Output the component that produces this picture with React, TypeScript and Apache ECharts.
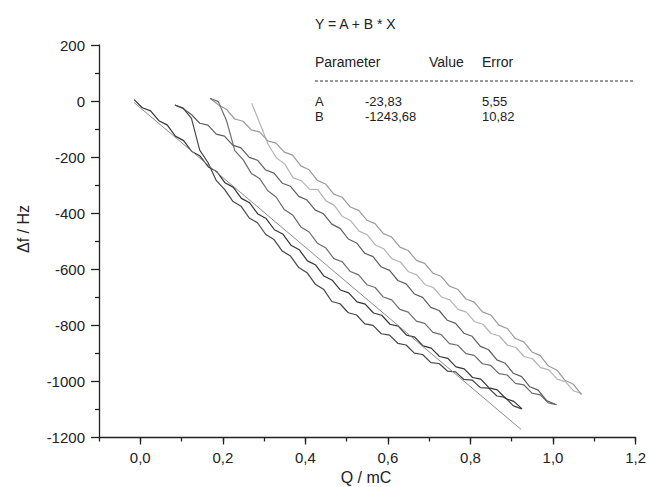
import React, { useEffect, useRef } from "react";
import * as echarts from "echarts";

const xTickValues = [0, 0.2, 0.4, 0.6, 0.8, 1.0, 1.2];
const fitA = -23.83;
const fitB = -1243.68;
const fitRange = [-0.015, 0.923];

// Each curve: first Q value (mC), sampling step (mC), then Δf values (Hz)
const qStep = 0.02;
const curve1Q0 = -0.015;
const curve1 = [5, -24, -35, -70, -85, -125, -141, -180, -196, -235, -251, -291, -307, -347, -363, -403, -419, -459, -474, -514, -530, -570, -585, -624, -639, -674, -684, -716, -724, -756, -764, -796, -803, -835, -842, -873, -881, -911, -918, -948, -955, -986, -992, -1023, -1030, -1061, -1071, -1098];
const curve2Q0 = 0.084;
const curve2 = [-14, -25, -62, -175, -219, -283, -315, -357, -375, -417, -434, -476, -494, -535, -553, -594, -612, -653, -671, -715, -723, -755, -763, -795, -800, -830, -835, -864, -870, -899, -904, -933, -936, -963, -966, -993, -995, -1022, -1024, -1052, -1057, -1087, -1098];
const curve3Q0 = 0.084;
const curve3 = [-14, -27, -48, -79, -86, -118, -125, -157, -167, -201, -211, -246, -257, -293, -304, -340, -353, -389, -402, -439, -454, -492, -506, -543, -555, -592, -604, -640, -652, -688, -700, -736, -747, -782, -793, -828, -839, -875, -887, -923, -935, -971, -983, -1019, -1031, -1068, -1081];
const curve4Q0 = 0.169;
const curve4 = [10, -2, -70, -177, -209, -258, -276, -320, -342, -387, -406, -449, -467, -507, -523, -562, -573, -608, -620, -655, -665, -699, -709, -743, -753, -785, -793, -825, -833, -865, -871, -901, -907, -937, -943, -972, -977, -1007, -1012, -1042, -1048, -1077, -1083];
const curve5Q0 = 0.169;
const curve5 = [10, -13, -30, -64, -72, -103, -110, -142, -150, -182, -193, -231, -245, -283, -296, -332, -343, -378, -390, -425, -437, -473, -485, -521, -533, -568, -579, -614, -625, -660, -671, -706, -717, -752, -763, -799, -811, -847, -859, -895, -908, -945, -959, -996, -1010, -1047];
const curve6Q0 = 0.27;
const curve6 = [-8, -81, -155, -203, -224, -273, -284, -314, -316, -356, -372, -412, -427, -464, -477, -514, -527, -563, -574, -609, -620, -655, -665, -699, -709, -743, -753, -787, -796, -829, -838, -871, -879, -911, -919, -951, -959, -992, -1001, -1034, -1043];

const curveStarts = [curve1Q0, curve2Q0, curve3Q0, curve4Q0, curve5Q0, curve6Q0];
const curves = [curve1, curve2, curve3, curve4, curve5, curve6];
const curveColors = ["#353535", "#474747", "#5e5e5e", "#6c6c6c", "#9a9a9a", "#b4b4b4"];

const FONT = "Liberation Sans, Arial, Helvetica, sans-serif";

export default function App() {
  const ref = useRef<HTMLDivElement>(null);
  useEffect(() => {
    document.body.style.margin = "0";
    const chart = echarts.init(ref.current!, null, { renderer: "svg" });
    const fitData = fitRange.map((x) => [x, fitA + fitB * x]);
    const txt = (text: string, x: number, y: number, extra: any = {}) => ({
      type: "text",
      x,
      y,
      style: { text, fill: "#222", font: `14px ${FONT}`, textVerticalAlign: "middle", ...extra },
    });
    const small = { font: `13px ${FONT}` };
    chart.setOption({
      animation: false,
      backgroundColor: "#fff",
      grid: { left: 99, right: 13, top: 45, bottom: 49.5, containLabel: false },
      xAxis: [
        {
          type: "value",
          min: -0.1,
          max: 1.2,
          axisLine: { show: true, onZero: false, lineStyle: { color: "#222", width: 1.3 } },
          axisTick: { show: true, customValues: xTickValues, length: 7, lineStyle: { color: "#222", width: 1.3 } },
          axisLabel: {
            customValues: xTickValues,
            margin: 12,
            color: "#222",
            fontSize: 15,
            fontFamily: FONT,
            formatter: (v: number) => v.toFixed(1).replace(".", ","),
          },
          splitLine: { show: false },
        },
        {
          type: "value",
          position: "bottom",
          min: -0.1,
          max: 1.2,
          interval: 0.1,
          axisLine: { show: false, onZero: false },
          axisTick: { show: true, length: 4, lineStyle: { color: "#222", width: 1.3 } },
          axisLabel: { show: false },
          splitLine: { show: false },
        },
      ],
      yAxis: {
        type: "value",
        min: -1200,
        max: 200,
        interval: 200,
        axisLine: { show: true, onZero: false, lineStyle: { color: "#222", width: 1.3 } },
        axisTick: { show: true, length: 8, lineStyle: { color: "#222", width: 1.3 } },
        minorTick: { show: true, splitNumber: 2, length: 4, lineStyle: { color: "#222", width: 1.3 } },
        axisLabel: { margin: 14, color: "#222", fontSize: 15, fontFamily: FONT, formatter: (v: number) => String(v) },
        splitLine: { show: false },
      },
      series: [
        ...curves.map((vals, i) => ({
          type: "line",
          data: vals.map((v, k) => [curveStarts[i] + k * qStep, v]),
          showSymbol: false,
          lineStyle: { color: curveColors[i], width: 1.2 },
          z: 3 + (5 - i),
        })),
        {
          type: "line",
          data: fitData,
          showSymbol: false,
          lineStyle: { color: "#8c8c8c", width: 1 },
          z: 10,
        },
      ],
      graphic: [
        txt("Q / mC", 366, 477, { textAlign: "center", font: `16px ${FONT}` }),
        {
          type: "text",
          x: 23,
          y: 229,
          rotation: Math.PI / 2,
          style: { text: "Δf / Hz", fill: "#222", font: `16px ${FONT}`, textAlign: "center", textVerticalAlign: "middle" },
        },
        txt("Y = A + B * X", 315, 24),
        txt("Parameter", 315, 62),
        txt("Value", 429, 62),
        txt("Error", 482, 62),
        {
          type: "line",
          shape: { x1: 315, y1: 81, x2: 633, y2: 81 },
          style: { stroke: "#333", lineWidth: 1, lineDash: [3, 2] },
        },
        txt("A", 315, 101, small),
        txt("-23,83", 365, 101, small),
        txt("5,55", 482, 101, small),
        txt("B", 315, 116, small),
        txt("-1243,68", 365, 116, small),
        txt("10,82", 482, 116, small),
      ],
    });
    return () => chart.dispose();
  }, []);
  return <div ref={ref} style={{ width: 649, height: 487 }} />;
}
